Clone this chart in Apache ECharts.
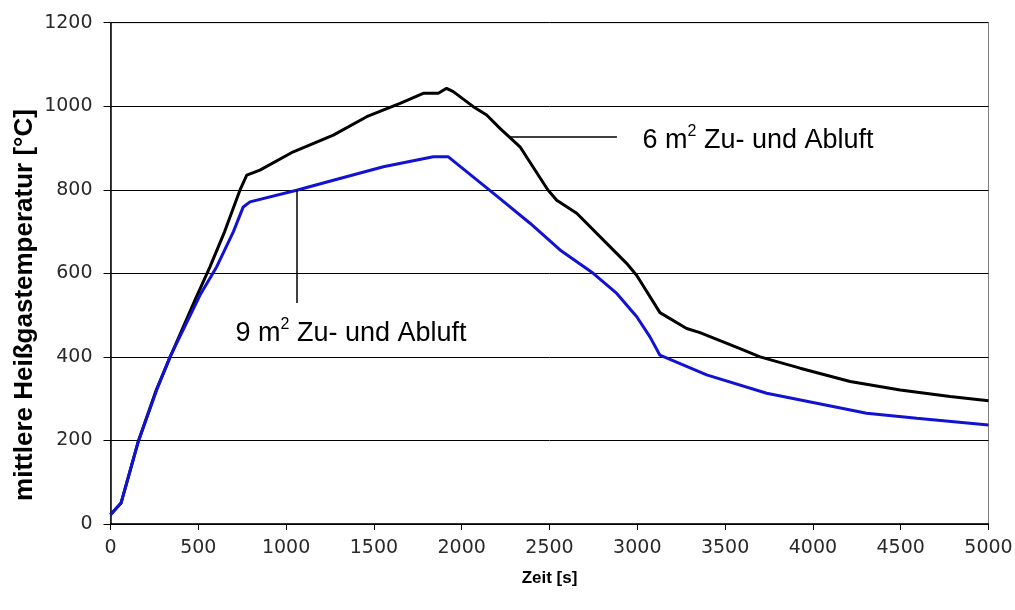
<!DOCTYPE html>
<html>
<head>
<meta charset="utf-8">
<script src="https://cdn.jsdelivr.net/npm/echarts@6/dist/echarts.min.js"></script>
<style>html,body{margin:0;padding:0;background:#fff;}#c{width:1015px;height:610px;}</style>
</head>
<body>
<div id="c"></div>
<script>
const xTicks = [0, 500, 1000, 1500, 2000, 2500, 3000, 3500, 4000, 4500, 5000];
const yTicks = [0, 200, 400, 600, 800, 1000, 1200];

const series6 = [[0,22],[60,50],[160,200],[260,320],[340,400],[481,536],[567,616],[650,700],[737,799],[776,835],[851,847],[1041,891],[1269,931],[1459,975],[1649,1007],[1781,1031],[1867,1031],[1914,1043],[1952,1035],[2066,999],[2142,979],[2218,947],[2332,903],[2490,800],[2541,775],[2655,744],[2939,624],[2997,595],[3129,506],[3281,468],[3357,458],[3585,420],[3699,400],[3927,373],[4212,341],[4497,321],[4781,305],[5000,295]];
const series9 = [[0,22],[60,50],[158,197],[263,321],[339,400],[510,548],[605,616],[700,700],[756,759],[794,771],[1060,799],[1269,823],[1554,855],[1838,879],[1924,879],[2218,779],[2389,720],[2560,656],[2749,600],[2883,552],[2997,496],[3072,448],[3129,404],[3395,357],[3737,313],[4022,289],[4306,265],[4591,253],[5000,237]];

const label6 = {pos: [3027, 919], line: [[2275, 926], [2884, 926]], n: '6'};
const label9 = {pos: [709, 457], line: [[1062, 799], [1062, 529]], n: '9'};

const richStyle = {
  t: {fontSize: 27, fontFamily: 'Liberation Sans, Arial', color: '#000', lineHeight: 32},
  s: {fontSize: 16, fontFamily: 'Liberation Sans, Arial', color: '#000', verticalAlign: 'top', lineHeight: 16}
};
function annot(a) {
  return {
    markLine: {
      silent: true, symbol: 'none', animation: false,
      lineStyle: {color: '#000', width: 1.5, type: 'solid'},
      label: {show: false},
      data: [[{coord: a.line[0]}, {coord: a.line[1]}]]
    },
    markPoint: {
      silent: true, animation: false, symbol: 'circle', symbolSize: 1,
      itemStyle: {color: 'rgba(0,0,0,0)'},
      label: {show: true, position: 'right', distance: 0, formatter: '{t|' + a.n + ' m}{s|2}{t| Zu- und Abluft}', rich: richStyle},
      data: [{coord: a.pos}]
    }
  };
}

const chart = echarts.init(document.getElementById('c'), null, {renderer: 'canvas'});
chart.setOption({
  animation: false,
  backgroundColor: '#fff',
  grid: {left: 110.5, right: 26.5, top: 22.7, bottom: 86, show: true, borderColor: '#808080', borderWidth: 1, containLabel: false, outerBoundsMode: 'none'},
  graphic: [{
    type: 'text', left: 12, top: 'middle', rotation: Math.PI / 2,
    x: 0, y: 0,
    position: [25, 297],
    style: {text: 'mittlere Heißgastemperatur [°C]', fontSize: 26, fontWeight: 'bold', fontFamily: 'Liberation Sans, Arial', fill: '#000', align: 'center', verticalAlign: 'middle'}
  }],
  xAxis: {
    type: 'value', min: xTicks[0], max: xTicks[xTicks.length - 1], interval: 500,
    name: 'Zeit [s]', nameLocation: 'middle', nameGap: 46,
    nameTextStyle: {fontSize: 17, fontWeight: 'bold', fontFamily: 'Liberation Sans, Arial', color: '#000'},
    axisLine: {lineStyle: {color: '#000', width: 1.5}},
    axisTick: {show: true, length: 6, lineStyle: {color: '#000'}},
    axisLabel: {fontSize: 19, fontFamily: 'DejaVu Sans', color: '#2a2a2a', margin: 15, formatter: v => String(v)},
    splitLine: {show: false}
  },
  yAxis: {
    type: 'value', min: yTicks[0], max: yTicks[yTicks.length - 1], interval: 200,
    axisLine: {show: true, lineStyle: {color: '#000', width: 1.5}},
    axisTick: {show: true, length: 7, lineStyle: {color: '#000'}},
    axisLabel: {fontSize: 19, fontFamily: 'DejaVu Sans', color: '#2a2a2a', margin: 18, formatter: v => String(v)},
    splitLine: {show: true, lineStyle: {color: '#000', width: 1}}
  },
  series: [
    Object.assign({
      name: '6 m²', type: 'line', data: series6, showSymbol: false, symbol: 'none',
      lineStyle: {color: '#000', width: 3}, z: 3
    }, annot(label6)),
    Object.assign({
      name: '9 m²', type: 'line', data: series9, showSymbol: false, symbol: 'none',
      lineStyle: {color: '#1212d2', width: 3}, z: 4
    }, annot(label9))
  ]
});
</script>
</body>
</html>
